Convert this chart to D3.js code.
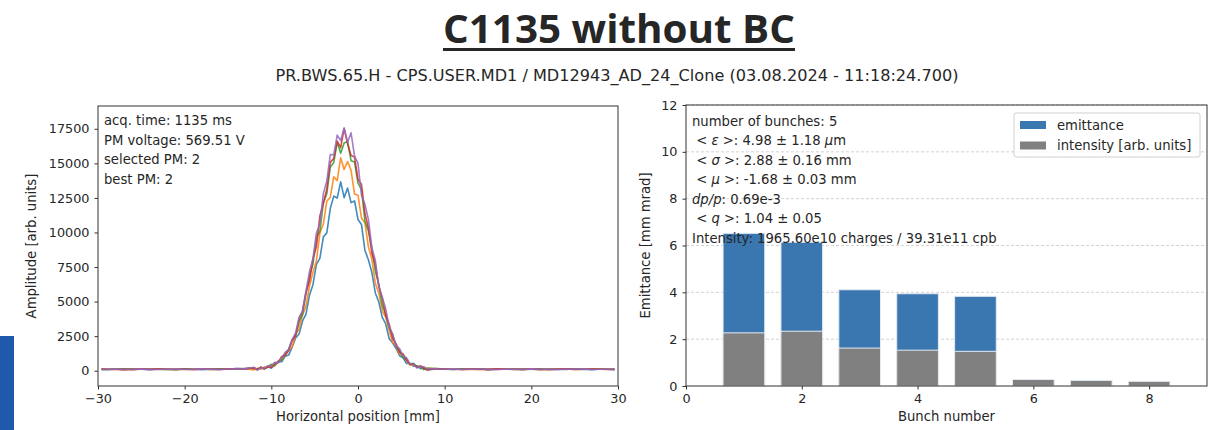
<!DOCTYPE html>
<html>
<head>
<meta charset="utf-8">
<script src="https://cdn.jsdelivr.net/npm/d3@7"></script>
<style>
    body { margin: 0; background: #fff; }
    text { font-family: "DejaVu Sans", sans-serif; fill: #262626; }
</style>
</head>
<body>
<div id="chart"></div>
<script>
// profile positions [mm]
const positions = [-29.6, -29, -28, -27, -26, -25, -24, -23, -22, -21, -20, -19, -18, -17, -16, -15, -14, -13,
    -12, -11.6, -11.2, -10.8, -10.4, -10, -9.6, -9.2, -8.8, -8.4, -8, -7.6, -7.2, -6.8, -6.4, -6, -5.6, -5.2, -4.8, -4.4,
    -4, -3.6, -3.2, -2.8, -2.4, -2, -1.6, -1.2, -0.8, -0.4, 0, 0.4, 0.8, 1.2, 1.6, 2, 2.4, 2.8, 3.2, 3.6, 4, 4.4, 4.8,
    5.2, 5.6, 6, 6.4, 6.8, 7.2, 7.6, 8,
    9, 10, 11, 12, 13, 14, 15, 16, 17, 18, 19, 20, 21, 22, 23, 24, 25, 26, 27, 28, 29, 29.6];

// amplitude of the 5 bunches
const profile1 = [110, 90, 120, 80, 130, 100, 70, 120, 110, 90, 140, 100, 80, 120, 130, 110, 150, 140,
    160, 60, 250, 160, 300, 180, 410, 630, 650, 1050, 1130, 1710, 2370, 2660, 3600, 4100, 5460, 6220, 7690, 8120,
    9670, 9970, 11730, 12630, 12490, 13660, 12520, 13210, 12160, 12280, 10940, 10580, 8700, 8030, 7110, 5620, 4970, 3860, 3380, 2310,
    2000, 1610, 1080, 930, 520, 530, 330, 360, 150, 210, 70,
    160, 120, 90, 130, 100, 140, 80, 110, 120, 90, 130, 100, 70, 120, 110, 90, 140, 100, 80, 120, 110, 60];
const profile2 = [90, 120, 100, 80, 110, 130, 90, 100, 120, 80, 110, 100, 130, 90, 110, 120, 100, 150,
    50, 180, 100, 280, 220, 380, 330, 660, 750, 1160, 1460, 1700, 2600, 3030, 4020, 4670, 6110, 7110, 7940, 9940,
    10610, 12260, 12550, 14020, 13750, 15400, 14560, 15130, 14500, 12780, 12700, 11050, 10700, 8960, 8060, 6310, 5630, 4330, 3850, 2890,
    2030, 1800, 1200, 1060, 720, 400, 450, 270, 330, 110, 190,
    140, 100, 120, 90, 110, 80, 120, 100, 130, 90, 100, 120, 80, 110, 100, 130, 90, 110, 100, 120, 90, 110];
const profile3 = [100, 80, 110, 130, 90, 100, 120, 90, 110, 80, 120, 100, 110, 90, 130, 100, 120, 160,
    210, 100, 240, 110, 290, 470, 400, 700, 760, 1270, 1550, 2240, 2560, 3540, 4080, 5570, 6830, 7690, 9620, 10080,
    12140, 12810, 14720, 15060, 16540, 15730, 16480, 16580, 15180, 15090, 13570, 13120, 10810, 10100, 8910, 7180, 6260, 4700, 4090, 3090,
    2590, 1760, 1450, 940, 810, 480, 530, 290, 300, 80, 170,
    150, 110, 90, 120, 100, 130, 90, 110, 100, 120, 80, 110, 130, 90, 100, 120, 110, 90, 120, 100, 110, 100];
const profile4 = [120, 100, 90, 110, 80, 120, 100, 130, 90, 110, 100, 80, 120, 110, 90, 130, 140, 150,
    190, 100, 260, 140, 280, 250, 560, 610, 1030, 1110, 1480, 2180, 2550, 3750, 4340, 5700, 6480, 8100, 8980, 11190,
    12110, 13130, 15070, 15350, 16610, 16130, 17530, 16410, 15570, 15460, 13830, 13490, 11390, 10340, 8490, 7700, 6110, 5280, 3990, 3360,
    2310, 1940, 1340, 1210, 770, 480, 480, 240, 340, 170, 50,
    130, 120, 100, 90, 120, 110, 80, 130, 100, 110, 90, 120, 100, 80, 110, 130, 90, 100, 120, 110, 90, 120];
const profile5 = [80, 110, 120, 90, 100, 130, 80, 110, 100, 120, 90, 110, 130, 100, 80, 120, 150, 130,
    250, 40, 230, 150, 360, 340, 610, 560, 930, 1320, 1530, 2250, 2740, 3850, 4290, 5760, 7170, 8100, 9950, 10610,
    12810, 13720, 15630, 15620, 17040, 16650, 17560, 16530, 17210, 15520, 15000, 12700, 12040, 10950, 8880, 7990, 6070, 5300, 4480, 3170,
    2660, 1800, 1590, 1080, 940, 500, 480, 200, 320, 290, 120,
    140, 100, 130, 90, 110, 120, 100, 80, 120, 110, 90, 130, 100, 110, 80, 120, 100, 130, 90, 110, 100, 90];
const profileColors = ["#1f77b4", "#ff7f0e", "#2ca02c", "#d62728", "#9467bd"];

const leftXTicks = [-30, -20, -10, 0, 10, 20, 30];
const leftYTicks = [0, 2500, 5000, 7500, 10000, 12500, 15000, 17500];

// bunch summary
const bunchNumbers = [1, 2, 3, 4, 5, 6, 7, 8];
const emittance = [6.52, 6.14, 4.11, 3.94, 3.83];
const intensity = [2.27, 2.34, 1.62, 1.53, 1.48, 0.28, 0.24, 0.20];
const rightXTicks = [0, 2, 4, 6, 8];
const rightYTicks = [0, 2, 4, 6, 8, 10, 12];

const infoLeft = ["acq. time: 1135 ms", "PM voltage: 569.51 V", "selected PM: 2", "best PM: 2"];

const width = 1214, height = 430;
const fs = 13.2;
const svg = d3.select("#chart").append("svg")
    .attr("width", width)
    .attr("height", height);

// blue strip at the bottom left (slide decoration)
svg.append("rect").attr("x", 0).attr("y", 336).attr("width", 14).attr("height", 94).attr("fill", "#1f58ad");

// title + subtitle
const title = svg.append("text")
    .attr("x", 619).attr("y", 43)
    .attr("text-anchor", "middle")
    .style("font-family", "'Open Sans', sans-serif")
    .attr("font-weight", 700)
    .attr("font-size", 40)
    .attr("textLength", 352)
    .attr("lengthAdjust", "spacingAndGlyphs")
    .text("C1135 without BC");
const tb = title.node().getBBox();
svg.append("rect").attr("x", tb.x).attr("y", 48).attr("width", tb.width).attr("height", 3).attr("fill", "#262626");

svg.append("text")
    .attr("x", 617).attr("y", 81)
    .attr("text-anchor", "middle")
    .attr("font-size", 16)
    .attr("textLength", 683)
    .attr("lengthAdjust", "spacingAndGlyphs")
    .text("PR.BWS.65.H - CPS.USER.MD1 / MD12943_AD_24_Clone (03.08.2024 - 11:18:24.700)");

function styleAxis(g) {
    g.attr("font-family", "DejaVu Sans").attr("font-size", 12.8);
    g.select(".domain").remove();
    g.selectAll(".tick line").attr("stroke", "#333");
    g.selectAll(".tick text").attr("fill", "#262626");
}

// ---------- left: profiles ----------
const L = { x0: 98, x1: 618, y0: 106, y1: 386 };
const xL = d3.scaleLinear().domain([-30, 30]).range([L.x0, L.x1]);
const yL = d3.scaleLinear().domain([-1107, 19149]).range([L.y1, L.y0]);

const line = d3.line()
    .x((d, i) => xL(positions[i]))
    .y(d => yL(d));

const profiles = [profile1, profile2, profile3, profile4, profile5];
svg.append("g").selectAll("path")
    .data(profiles)
    .enter()
    .append("path")
    .attr("d", line)
    .attr("fill", "none")
    .attr("stroke", (d, i) => profileColors[i])
    .attr("stroke-width", 1.6)
    .attr("stroke-opacity", 0.85)
    .attr("stroke-linejoin", "round");

svg.append("g")
    .attr("transform", `translate(0,${L.y1})`)
    .call(d3.axisBottom(xL).tickValues(leftXTicks).tickSize(3.5).tickPadding(4).tickFormat(d => d < 0 ? "\u2212" + Math.abs(d) : d))
    .call(styleAxis);
svg.append("g")
    .attr("transform", `translate(${L.x0},0)`)
    .call(d3.axisLeft(yL).tickValues(leftYTicks).tickSize(3.5).tickPadding(5).tickFormat(d3.format("d")))
    .call(styleAxis);

svg.append("rect")
    .attr("x", L.x0).attr("y", L.y0).attr("width", L.x1 - L.x0).attr("height", L.y1 - L.y0)
    .attr("fill", "none").attr("stroke", "#333").attr("stroke-width", 1);

infoLeft.forEach((t, i) => {
    svg.append("text").attr("x", 104).attr("y", 125 + i * 19.5).attr("font-size", fs).text(t);
});

svg.append("text")
    .attr("x", (L.x0 + L.x1) / 2).attr("y", 421)
    .attr("text-anchor", "middle").attr("font-size", fs)
    .text("Horizontal position [mm]");
svg.append("text")
    .attr("transform", `translate(36,${(L.y0 + L.y1) / 2}) rotate(-90)`)
    .attr("text-anchor", "middle").attr("font-size", fs)
    .text("Amplitude [arb. units]");

// ---------- right: emittance per bunch ----------
const R = { x0: 686, x1: 1207, y0: 105, y1: 386 };
const xR = d3.scaleLinear().domain([0, 9]).range([R.x0, R.x1]);
const yR = d3.scaleLinear().domain([0, 12]).range([R.y1, R.y0]);
const barW = 0.72;

// dashed grid
svg.append("g").selectAll("line")
    .data(rightYTicks.slice(1))
    .enter()
    .append("line")
    .attr("x1", R.x0).attr("x2", R.x1)
    .attr("y1", d => yR(d)).attr("y2", d => yR(d))
    .attr("stroke", "#c8c8c8").attr("stroke-dasharray", "3,2").attr("stroke-width", 0.8);

svg.append("g").selectAll("rect")
    .data(emittance)
    .enter()
    .append("rect")
    .attr("x", (d, i) => xR(bunchNumbers[i] - barW / 2))
    .attr("width", xR(barW) - xR(0))
    .attr("y", d => yR(d))
    .attr("height", d => yR(0) - yR(d))
    .attr("fill", "#3a76af")
    .attr("stroke", "#e4ebf3").attr("stroke-width", 1);

svg.append("g").selectAll("rect")
    .data(intensity)
    .enter()
    .append("rect")
    .attr("x", (d, i) => xR(bunchNumbers[i] - barW / 2))
    .attr("width", xR(barW) - xR(0))
    .attr("y", d => yR(d))
    .attr("height", d => yR(0) - yR(d))
    .attr("fill", "#808080")
    .attr("stroke", "#e4ebf3").attr("stroke-width", 1);

svg.append("g")
    .attr("transform", `translate(0,${R.y1})`)
    .call(d3.axisBottom(xR).tickValues(rightXTicks).tickSize(3.5).tickPadding(4))
    .call(styleAxis);
svg.append("g")
    .attr("transform", `translate(${R.x0},0)`)
    .call(d3.axisLeft(yR).tickValues(rightYTicks).tickSize(3.5).tickPadding(5))
    .call(styleAxis);

svg.append("rect")
    .attr("x", R.x0).attr("y", R.y0).attr("width", R.x1 - R.x0).attr("height", R.y1 - R.y0)
    .attr("fill", "none").attr("stroke", "#333").attr("stroke-width", 1);

// stats text
const infoRight = [
    [["number of bunches: 5", false]],
    [[" < ", false], ["ε", true], [" >: 4.98 ± 1.18 ", false], ["μ", true], ["m", false]],
    [[" < ", false], ["σ", true], [" >: 2.88 ± 0.16 mm", false]],
    [[" < ", false], ["μ", true], [" >: -1.68 ± 0.03 mm", false]],
    [["dp/p", true], [": 0.69e-3", false]],
    [[" < ", false], ["q", true], [" >: 1.04 ± 0.05", false]],
    [["Intensity: 1965.60e10 charges / 39.31e11 cpb", false]]
];
infoRight.forEach((parts, i) => {
    const t = svg.append("text")
        .attr("x", 692).attr("y", 125.5 + i * 19.5)
        .attr("font-size", fs)
        .attr("xml:space", "preserve")
        .style("white-space", "pre");
    parts.forEach(p => {
        t.append("tspan").attr("font-style", p[1] ? "italic" : "normal").text(p[0]);
    });
});

// legend
const legend = svg.append("g");
legend.append("rect")
    .attr("x", 1014).attr("y", 113).attr("width", 186).attr("height", 44).attr("rx", 2)
    .attr("fill", "#fff").attr("fill-opacity", 0.8).attr("stroke", "#d0d0d0");
[["emittance", "#3a76af"], ["intensity [arb. units]", "#808080"]].forEach((d, i) => {
    legend.append("rect")
        .attr("x", 1020).attr("y", 121 + i * 20.5).attr("width", 26).attr("height", 8)
        .attr("fill", d[1]);
    legend.append("text")
        .attr("x", 1057).attr("y", 129.5 + i * 20.5)
        .attr("font-size", fs)
        .text(d[0]);
});

svg.append("text")
    .attr("x", (R.x0 + R.x1) / 2).attr("y", 421)
    .attr("text-anchor", "middle").attr("font-size", fs)
    .text("Bunch number");
svg.append("text")
    .attr("transform", `translate(650,${(R.y0 + R.y1) / 2}) rotate(-90)`)
    .attr("text-anchor", "middle").attr("font-size", fs)
    .text("Emittance [mm mrad]");
</script>
</body>
</html>
